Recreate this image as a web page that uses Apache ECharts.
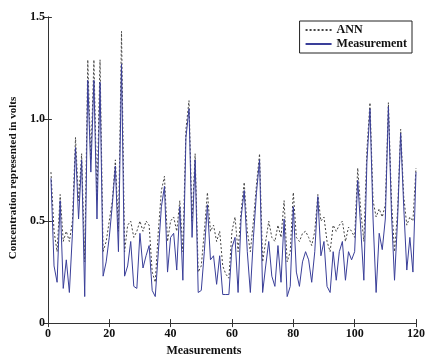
<!DOCTYPE html>
<html>
<head>
<meta charset="utf-8">
<title>ANN vs Measurement</title>
<script src="https://cdn.jsdelivr.net/npm/echarts@6/dist/echarts.min.js"></script>
<style>
  html, body { margin: 0; padding: 0; background: #fff; }
  #chart { width: 429px; height: 362px; }
</style>
</head>
<body>
<div id="chart"></div>
<script>
// measurement index runs 1..120
var measurement = [
  0.71, 0.28, 0.20, 0.60, 0.17, 0.31, 0.15, 0.44, 0.86, 0.51,
  0.80, 0.13, 1.19, 0.74, 1.19, 0.51, 1.18, 0.23, 0.30, 0.42,
  0.58, 0.77, 0.35, 1.27, 0.23, 0.28, 0.40, 0.18, 0.17, 0.44,
  0.27, 0.33, 0.38, 0.16, 0.13, 0.35, 0.57, 0.67, 0.25, 0.42,
  0.44, 0.26, 0.57, 0.21, 0.91, 1.05, 0.42, 0.80, 0.15, 0.16,
  0.35, 0.58, 0.31, 0.33, 0.19, 0.33, 0.14, 0.14, 0.14, 0.37,
  0.42, 0.15, 0.52, 0.65, 0.35, 0.15, 0.42, 0.64, 0.80, 0.15,
  0.28, 0.40, 0.23, 0.18, 0.38, 0.20, 0.51, 0.13, 0.18, 0.57,
  0.25, 0.18, 0.30, 0.35, 0.31, 0.20, 0.35, 0.62, 0.33, 0.40,
  0.18, 0.15, 0.35, 0.21, 0.35, 0.40, 0.21, 0.35, 0.31, 0.35,
  0.70, 0.46, 0.21, 0.79, 1.05, 0.51, 0.15, 0.44, 0.36, 0.51,
  1.06, 0.54, 0.21, 0.51, 0.93, 0.57, 0.26, 0.42, 0.25, 0.74
];
var ann = [
  0.74, 0.45, 0.35, 0.63, 0.40, 0.45, 0.40, 0.50, 0.91, 0.60,
  0.83, 0.30, 1.29, 0.80, 1.29, 0.60, 1.29, 0.35, 0.40, 0.50,
  0.60, 0.80, 0.45, 1.43, 0.35, 0.48, 0.50, 0.42, 0.45, 0.50,
  0.45, 0.50, 0.48, 0.25, 0.20, 0.45, 0.65, 0.72, 0.40, 0.50,
  0.52, 0.45, 0.60, 0.35, 0.95, 1.09, 0.50, 0.83, 0.25, 0.28,
  0.45, 0.64, 0.45, 0.48, 0.40, 0.45, 0.28, 0.24, 0.22, 0.45,
  0.52, 0.35, 0.55, 0.69, 0.45, 0.35, 0.50, 0.68, 0.83, 0.30,
  0.40, 0.50, 0.42, 0.40, 0.48, 0.42, 0.60, 0.30, 0.35, 0.64,
  0.42, 0.40, 0.44, 0.45, 0.42, 0.38, 0.45, 0.63, 0.50, 0.52,
  0.40, 0.35, 0.48, 0.45, 0.48, 0.50, 0.40, 0.47, 0.45, 0.42,
  0.76, 0.55, 0.40, 0.85, 1.08, 0.60, 0.52, 0.56, 0.52, 0.58,
  1.08, 0.60, 0.35, 0.55, 0.95, 0.62, 0.48, 0.52, 0.50, 0.76
];
var xTicks = [0, 20, 40, 60, 80, 100, 120];
var yTicks = [0, 0.5, 1.0, 1.5];

function toPairs(arr) {
  return arr.map(function (v, i) { return [i + 1, v]; });
}

var font = 'Liberation Serif';
var axisLine = { show: true, lineStyle: { color: '#333', width: 1 } };
var tick = { show: true, inside: true, length: 4, lineStyle: { color: '#333' } };

var chart = echarts.init(document.getElementById('chart'));
chart.setOption({
  animation: false,
  backgroundColor: '#fff',
  grid: { left: 43, right: 13, top: 17, bottom: 38 },
  legend: {
    orient: 'vertical',
    right: 17,
    top: 21,
    itemWidth: 26,
    itemHeight: 8,
    itemGap: 2,
    padding: [3, 5, 3, 5],
    borderColor: '#222',
    borderWidth: 1,
    backgroundColor: '#fff',
    itemStyle: { color: 'transparent', borderWidth: 0 },
    textStyle: { fontFamily: font, fontWeight: 'bold', fontSize: 12, color: '#111' },
    data: ['ANN', 'Measurement']
  },
  xAxis: [{
    type: 'value',
    min: xTicks[0],
    max: xTicks[xTicks.length - 1],
    interval: 20,
    name: 'Measurements',
    nameLocation: 'middle',
    nameGap: 21,
    nameTextStyle: { fontFamily: font, fontWeight: 'bold', fontSize: 12, color: '#111', padding: [0, 56, 0, 0] },
    axisLine: axisLine,
    axisTick: tick,
    splitLine: { show: false },
    axisLabel: { fontFamily: font, fontWeight: 'bold', fontSize: 12, color: '#111', margin: 5 }
  }, {
    type: 'value',
    position: 'top',
    min: xTicks[0],
    max: xTicks[xTicks.length - 1],
    interval: 20,
    axisLine: axisLine,
    axisTick: tick,
    splitLine: { show: false },
    axisLabel: { show: false }
  }],
  yAxis: [{
    type: 'value',
    min: yTicks[0],
    max: yTicks[yTicks.length - 1],
    interval: 0.5,
    name: 'Concentration represented in volts',
    nameLocation: 'middle',
    nameGap: 27,
    nameTextStyle: { fontFamily: font, fontWeight: 'bold', fontSize: 11, color: '#111', padding: [0, 16, 0, 0] },
    axisLine: axisLine,
    axisTick: tick,
    splitLine: { show: false },
    axisLabel: {
      fontFamily: font, fontWeight: 'bold', fontSize: 12, color: '#111', margin: 3,
      formatter: function (v) { return v === 0 ? '0' : v.toFixed(1); }
    }
  }, {
    type: 'value',
    position: 'right',
    min: yTicks[0],
    max: yTicks[yTicks.length - 1],
    interval: 0.5,
    axisLine: axisLine,
    axisTick: tick,
    splitLine: { show: false },
    axisLabel: { show: false }
  }],
  series: [{
    name: 'ANN',
    type: 'line',
    data: toPairs(ann),
    symbol: 'none',
    z: 2,
    lineStyle: { color: '#444', width: 1, type: [2, 2] },
    itemStyle: { color: '#444' }
  }, {
    name: 'Measurement',
    type: 'line',
    data: toPairs(measurement),
    symbol: 'none',
    z: 3,
    lineStyle: { color: '#3a3f99', width: 1 },
    itemStyle: { color: '#3a3f99' }
  }]
});
</script>
</body>
</html>
